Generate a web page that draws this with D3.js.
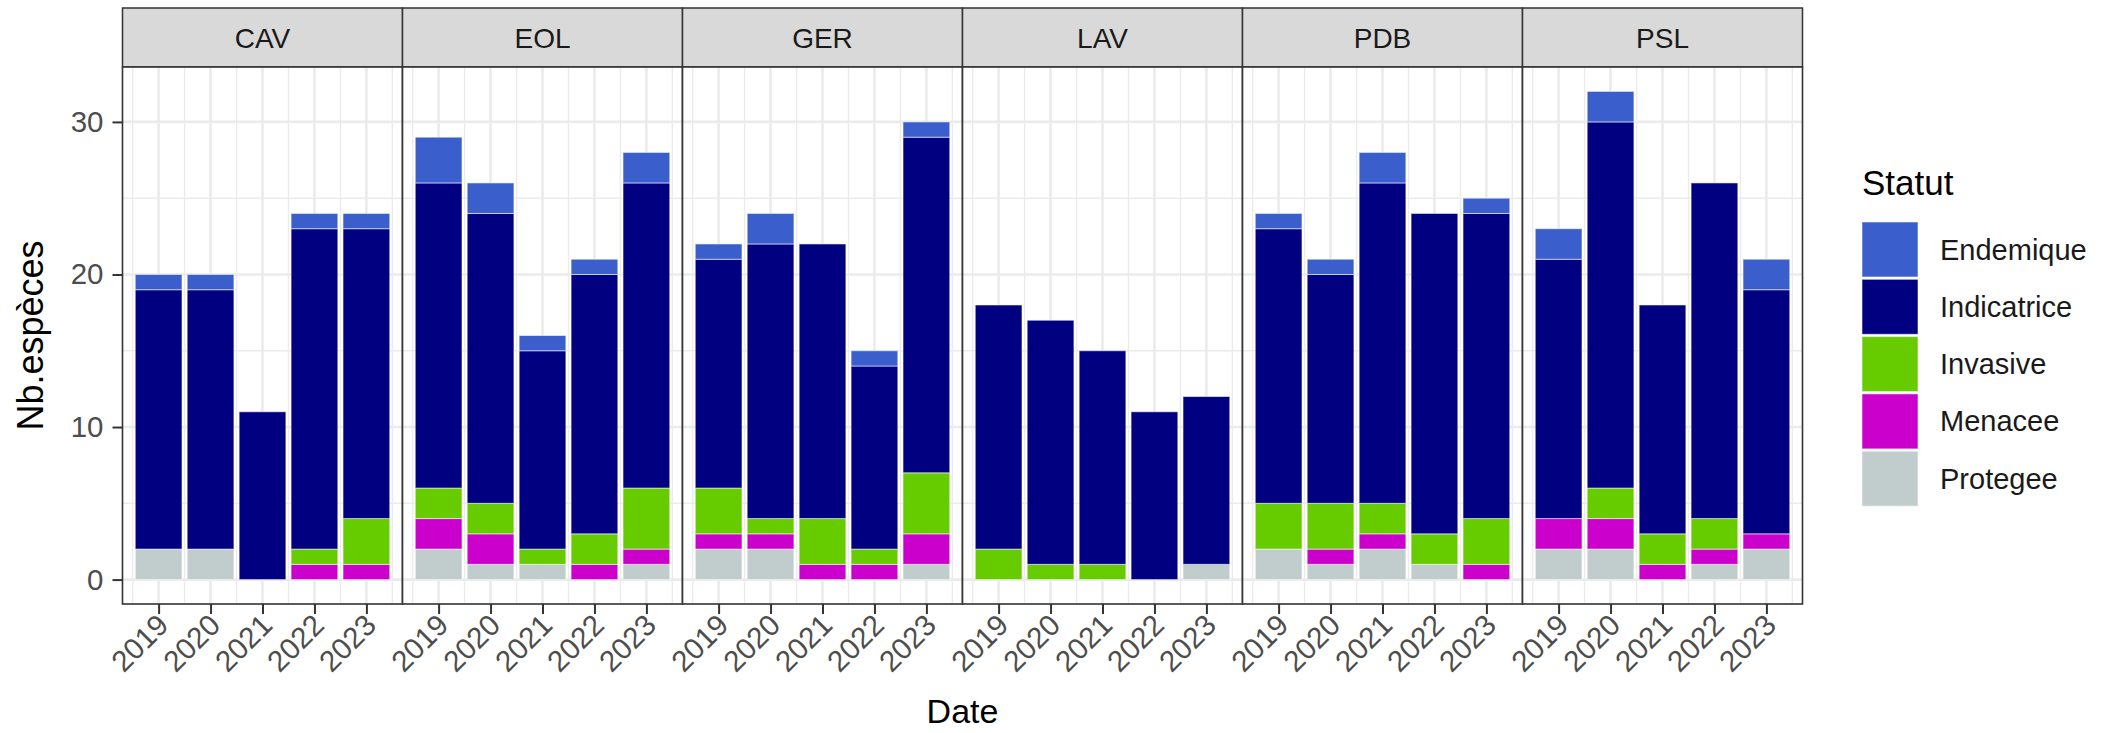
<!DOCTYPE html>
<html><head><meta charset="utf-8">
<script src="https://cdn.jsdelivr.net/npm/d3@7"></script>
<style>html,body{margin:0;padding:0;background:#fff;} svg{display:block;font-family:"Liberation Sans",Arial,sans-serif;}</style>
</head><body>
<svg id="chart" width="2103" height="733"></svg>
<script>
const years = [2019, 2020, 2021, 2022, 2023];
const sites = ["CAV", "EOL", "GER", "LAV", "PDB", "PSL"];
const statuts = ["Endemique", "Indicatrice", "Invasive", "Menacee", "Protegee"];
const colors = ["#3A5FCD", "#000080", "#66CC00", "#CC00CC", "#C1CDCD"];
const yTicks = [0, 10, 20, 30];
// values per site (rows) and year (columns)
const protegee    = [[2,2,0,0,0],[2,1,1,0,1],[2,2,0,0,1],[0,0,0,0,1],[2,1,2,1,0],[2,2,0,1,2]];
const menacee     = [[0,0,0,1,1],[2,2,0,1,1],[1,1,1,1,2],[0,0,0,0,0],[0,1,1,0,1],[2,2,1,1,1]];
const invasive    = [[0,0,0,1,3],[2,2,1,2,4],[3,1,3,1,4],[2,1,1,0,0],[3,3,2,2,3],[0,2,2,2,0]];
const indicatrice = [[17,17,11,21,19],[20,19,13,17,20],[15,18,18,12,22],[16,16,14,11,11],[18,15,21,21,20],[17,24,15,22,16]];
const endemique   = [[1,1,0,1,1],[3,2,1,1,2],[1,2,0,1,1],[0,0,0,0,0],[1,1,2,0,1],[2,2,0,0,2]];
const seriesBy = {Endemique: endemique, Indicatrice: indicatrice, Invasive: invasive, Menacee: menacee, Protegee: protegee};

const svg = d3.select("#chart");
const panelLeft = 122.5, panelW = 280, stripTop = 8, panelTop = 67, panelBottom = 604;
const color = d3.scaleOrdinal().domain(statuts).range(colors);
const x = d3.scaleLinear().domain([2018.305, 2023.695]).range([0, panelW]);
const y = d3.scaleLinear().domain([-1.6, 33.6]).range([panelBottom, panelTop]);
const barW = x(2019.45) - x(2018.55);
const stackKeys = statuts.slice().reverse(); // bottom -> top

sites.forEach((site, si) => {
  const g = svg.append("g").attr("transform", `translate(${panelLeft + si * panelW},0)`);
  // strip
  g.append("rect").attr("x", 0).attr("y", stripTop).attr("width", panelW).attr("height", panelTop - stripTop)
    .attr("fill", "#d9d9d9").attr("stroke", "#333").attr("stroke-width", 1.5);
  g.append("text").attr("x", panelW / 2).attr("y", (stripTop + panelTop) / 2 + 10)
    .attr("text-anchor", "middle").attr("font-size", 28).attr("fill", "#1a1a1a").text(site);
  // panel background
  g.append("rect").attr("x", 0).attr("y", panelTop).attr("width", panelW).attr("height", panelBottom - panelTop).attr("fill", "#fff");
  // minor grid
  [5, 15, 25].forEach(v => g.append("line").attr("x1", 0).attr("x2", panelW).attr("y1", y(v)).attr("y2", y(v))
    .attr("stroke", "#ebebeb").attr("stroke-width", 1.4));
  years.forEach(yr => g.append("line").attr("x1", x(yr - 0.5)).attr("x2", x(yr - 0.5)).attr("y1", panelTop).attr("y2", panelBottom)
    .attr("stroke", "#ebebeb").attr("stroke-width", 1.4));
  g.append("line").attr("x1", x(2023.5)).attr("x2", x(2023.5)).attr("y1", panelTop).attr("y2", panelBottom)
    .attr("stroke", "#ebebeb").attr("stroke-width", 1.4);
  // major grid
  yTicks.forEach(v => g.append("line").attr("x1", 0).attr("x2", panelW).attr("y1", y(v)).attr("y2", y(v))
    .attr("stroke", "#ebebeb").attr("stroke-width", 2.6));
  years.forEach(yr => g.append("line").attr("x1", x(yr)).attr("x2", x(yr)).attr("y1", panelTop).attr("y2", panelBottom)
    .attr("stroke", "#ebebeb").attr("stroke-width", 2.6));
  // stacked bars
  const rows = years.map((yr, yi) => {
    const r = {year: yr};
    statuts.forEach(s => r[s] = seriesBy[s][si][yi]);
    return r;
  });
  const stacked = d3.stack().keys(stackKeys)(rows);
  stacked.forEach(layer => {
    g.append("g").selectAll("rect").data(layer.filter(d => d[1] > d[0])).join("rect")
      .attr("x", d => x(d.data.year) - barW / 2).attr("width", barW)
      .attr("y", d => y(d[1])).attr("height", d => y(d[0]) - y(d[1]))
      .attr("fill", color(layer.key)).attr("stroke", "#ffffff").attr("stroke-opacity", 0.55).attr("stroke-width", 1);
  });
  // border
  g.append("rect").attr("x", 0).attr("y", panelTop).attr("width", panelW).attr("height", panelBottom - panelTop)
    .attr("fill", "none").attr("stroke", "#333").attr("stroke-width", 1.6);
  // x axis
  const xa = g.append("g").attr("transform", `translate(0,${panelBottom})`)
    .call(d3.axisBottom(x).tickValues(years).tickFormat(d3.format("d")).tickSize(10).tickSizeOuter(0));
  xa.select(".domain").remove();
  xa.selectAll(".tick line").attr("stroke", "#333").attr("stroke-width", 2);
  xa.selectAll(".tick text").attr("font-size", 29.5).attr("fill", "#4d4d4d").attr("font-family", "Liberation Sans, Arial, sans-serif")
    .attr("text-anchor", "end").attr("dy", null).attr("y", null)
    .attr("transform", "translate(11,23) rotate(-45)");
  if (si === 0) {
    const ya = g.append("g").call(d3.axisLeft(y).tickValues(yTicks).tickSize(10).tickSizeOuter(0));
    ya.select(".domain").remove();
    ya.selectAll(".tick line").attr("stroke", "#333").attr("stroke-width", 2);
    ya.selectAll(".tick text").attr("font-size", 29.5).attr("fill", "#4d4d4d").attr("x", -19)
      .attr("font-family", "Liberation Sans, Arial, sans-serif");
  }
});

// axis titles
svg.append("text").attr("x", panelLeft + 3 * panelW).attr("y", 723).attr("text-anchor", "middle")
  .attr("font-size", 34).attr("fill", "#000").text("Date");
svg.append("text").attr("transform", `translate(43,${(panelTop + panelBottom) / 2}) rotate(-90)`).attr("text-anchor", "middle")
  .attr("font-size", 36).attr("fill", "#000").text("Nb.espèces");

// legend
const lg = svg.append("g").attr("transform", "translate(1862,0)");
lg.append("text").attr("x", 0).attr("y", 195).attr("font-size", 35).attr("fill", "#000").text("Statut");
statuts.forEach((s, i) => {
  const ky = 222 + i * 57.3;
  lg.append("rect").attr("x", 0).attr("y", ky).attr("width", 56).attr("height", 55)
    .attr("fill", color(s)).attr("stroke", "#ffffff").attr("stroke-opacity", 0.55).attr("stroke-width", 1);
  lg.append("text").attr("x", 78).attr("y", ky + 27.5 + 10).attr("font-size", 29).attr("fill", "#1a1a1a").text(s);
});
</script>
</body></html>
